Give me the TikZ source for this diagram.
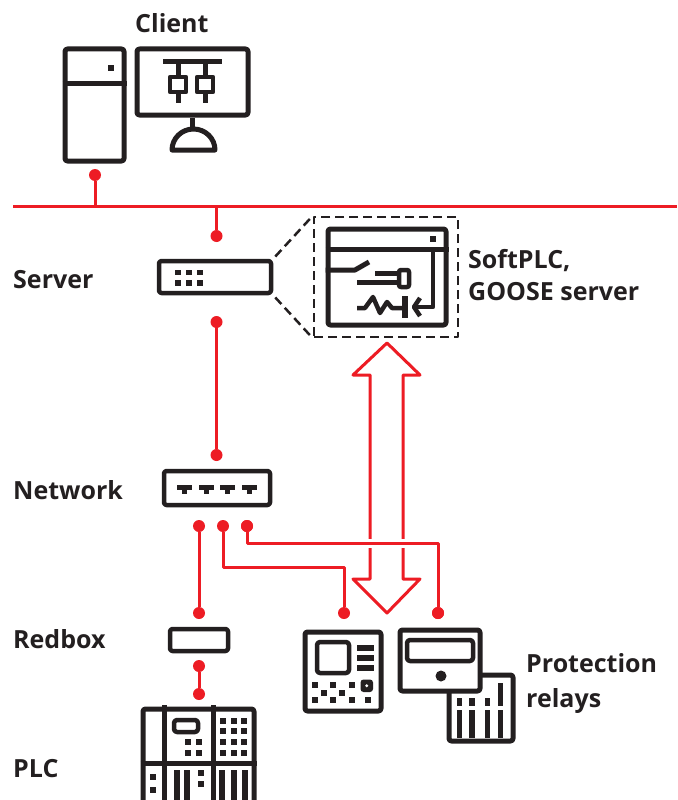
\documentclass[tikz,border=0pt]{standalone}
\usepackage{fontspec}
\setmainfont{Open Sans}
\usepackage{tikz}
\usetikzlibrary{positioning}

\definecolor{abbred}{RGB}{237,28,36}
\definecolor{ink}{RGB}{35,31,32}

\begin{document}
\begin{tikzpicture}[x=1pt,y=-1pt,line join=round,
                    font=\fontsize{25}{32}\selectfont\bfseries]
  \tikzstyle{box}=[draw=ink,line width=5pt,rounded corners=2.5pt,fill=white,inner sep=0pt]
  \tikzstyle{frame}=[draw=ink,line width=2.5pt,dash pattern=on 9pt off 5pt,inner sep=0pt]
  \tikzstyle{dot}=[circle,fill=abbred,inner sep=0pt,minimum size=12pt]
  \tikzstyle{wire}=[draw=abbred,line width=3pt]
  \tikzstyle{lbl}=[anchor=base west,inner sep=0pt,text=ink]
  \tikzstyle{icon}=[draw=ink,line width=5pt]

  \useasboundingbox (0,0) rectangle (677,800);
  \clip (0,0) rectangle (677,800);

  % labels
  \node[lbl] (Lc) at (135,33)  {Client};
  \node[lbl] (Ls) at (13,288)  {Server};
  \node[lbl] (Ln) at (13,499)  {Network};
  \node[lbl] (Lr) at (13,648)  {Redbox};
  \node[lbl] (Lp) at (13,777)  {PLC};
  \node[lbl] (Lw) at (468,268) {SoftPLC,};
  \node[lbl] (Lg) at (468,300) {GOOSE server};
  \node[lbl] (Lq) at (526,672) {Protection};
  \node[lbl] (Ly) at (526,707) {relays};

  % client: tower and monitor
  \node[box,minimum width=59pt,minimum height=112pt] (T) at (94.5,105) {};
  \draw[icon] (T.west |- 0,83) -- (T.east |- 0,83);
  \fill[ink] (108,65) rectangle ++(6,6);
  \node[box,minimum width=111pt,minimum height=66pt] (M) at (192.5,82) {};
  \draw[icon] (M.south) -- ++(0,12);
  \draw[icon,fill=white] (172,150) arc[start angle=180,end angle=360,x radius=21.5,y radius=21] -- cycle;
  \draw[icon] (163,62) -- (222,62);
  \foreach \x in {178,205} {
    \draw[icon] (\x,62) -- (\x,103);
    \draw[icon,line width=4.5pt,fill=white] (\x-8,77) rectangle (\x+8,92);
  }

  % bus
  \coordinate (busL) at (13,206);
  \coordinate (busR) at (677,206);
  \draw[wire] (busL) -- (busR);
  \node[dot] (d0) at (95,175) {};
  \draw[wire] (d0) -- (d0 |- busL);

  % server
  \node[dot] (d1) at (216.5,236) {};
  \draw[wire] (d1) -- (d1 |- busL);
  \node[box,line width=4.5pt,minimum width=112pt,minimum height=32pt] (S) at (215,277) {};
  \foreach \x in {177.5,188.5,199.5}
    \foreach \y in {272,282.5}
      \fill[ink] (\x-2.5,\y-2.5) rectangle ++(5.5,5.5);

  % softplc frame and window
  \node[frame,minimum width=144pt,minimum height=120pt] (W) at (386,277) {};
  \draw[frame,shorten <=3pt] (S.north east) -- (W.north west);
  \draw[frame,shorten <=3pt] (S.south east) -- (W.south west);
  \node[box,minimum width=118pt,minimum height=96pt] (V) at (387,277) {};
  \draw[icon] (V.west |- 0,249) -- (V.east |- 0,249);
  \fill[ink] (430,236) rectangle ++(6,6);
  \draw[icon] (V.west |- 0,270) -- (355,270) -- (369,262);
  \draw[icon] (375,273) -- (400,273);
  \draw[icon] (357,282) -- (400,282);
  \draw[icon,line width=4.5pt,fill=white,rounded corners=2pt] (399,270) rectangle (409,287);
  \draw[icon,line width=4.5pt] (433,249) -- (433,307) -- (417,307);
  \draw[icon,line width=4.5pt] (420,298) -- (414,307) -- (420,316);
  \draw[icon,line width=5.5pt] (405,296) -- (405,318);
  \draw[icon,line width=4.5pt] (357,308) -- (365,308) -- (373,297) -- (380,313)
        -- (387,302) -- (392,308) -- (405,308);

  % server to network
  \node[dot] (d2) at (216.5,322) {};
  \node[dot] (d3) at (216.5,455) {};
  \draw[wire] (d2) -- (d3);
  \node[box,line width=4.5pt,minimum width=106pt,minimum height=34pt] (N) at (217,488) {};
  \foreach \x in {184.5,206,227.5,249.5} {
    \fill[ink] (\x-7.5,485) rectangle (\x+7.5,489.5);
    \fill[ink] (\x-2.5,489) rectangle (\x+2.5,494);
  }

  % goose exchange
  \draw[wire,fill=white] (387,343) -- (420,375) -- (403,375) -- (403,579)
        -- (420,579) -- (387,613) -- (353,579) -- (370,579) -- (370,375)
        -- (353,375) -- cycle;

  % network ports
  \node[dot] (n1) at (199,526) {};
  \node[dot] (n2) at (223,526) {};
  \node[dot] (n3) at (247,526) {};
  \node[dot] (r1) at (199,613) {};
  \node[dot] (q1) at (344,613) {};
  \node[dot] (q2) at (438,613) {};
  \draw[wire] (n1) -- (r1);
  \draw[wire] (n2) -- ++(0,41) -| (q1);
  \draw[wire,preaction={draw=white,line width=9pt}] (n3) -- ++(0,17) -| (q2);
  \node[dot] at (n3) {};
  \node[dot] at (q2) {};

  % redbox and plc
  \node[box,line width=4.5pt,minimum width=58pt,minimum height=22pt] (R) at (199,640) {};
  \node[dot] (r2) at (199,666) {};
  \node[dot] (r3) at (199,694) {};
  \draw[wire] (r2) -- (r3);
  \node[box,minimum width=111pt,minimum height=111pt] (P) at (198.5,764.5) {};
  \draw[icon] (164,705) -- (164,820);
  \draw[icon] (213,705) -- (213,820);
  \draw[icon] (P.west |- 0,763) -- (P.east |- 0,763);
  \draw[icon,line width=4.5pt,rounded corners=3pt] (174,720) rectangle (198,732);
  \foreach \x in {188,199}
    \foreach \y in {742,753}
      \fill[ink] (\x-3,\y-3) rectangle ++(6,6);
  \foreach \x in {223,234,244}
    \foreach \y in {721,731,742,753}
      \fill[ink] (\x-3,\y-3) rectangle ++(6,6);
  \foreach \y in {777,790}
    \fill[ink] (150,\y-3) rectangle ++(6,6);
  \foreach \y in {773,784}
    \fill[ink] (198,\y-3) rectangle ++(6,6);
  \foreach \x in {176.5,186.5,222,233.5,244.5}
    \fill[ink] (\x-3,770) rectangle (\x+3,805);

  % protection relays
  \node[box,minimum width=76pt,minimum height=79pt] (Q1) at (343,671.5) {};
  \draw[icon,line width=4.5pt,rounded corners=3pt] (317,642) rectangle (349,673);
  \foreach \y in {648,658,668}
    \draw[icon,line width=5.5pt] (357,\y) -- (374,\y);
  \foreach \x/\y in {315/685,333/685,352/685,324/693,342/693,315/700,333/700,352/700,368/700}
    \fill[ink] (\x-3,\y-3) rectangle ++(6,6);
  \fill[ink,rounded corners=3pt] (360.5,679.5) rectangle (373,692);
  \fill[white] (366.7,685.7) circle (1.6);

  \node[box,minimum width=64pt,minimum height=66pt] (Q3) at (481,708) {};
  \foreach \x in {459.5,472,487.5}
    \fill[ink] (\x-2.75,698) rectangle (\x+2.75,706);
  \fill[ink] (497.75,683) rectangle (503.25,706);
  \foreach \x in {459.5,472,487.5,500.5}
    \fill[ink] (\x-2.75,710) rectangle (\x+2.75,738);
  \node[box,minimum width=80pt,minimum height=61pt] (Q2) at (440,660.5) {};
  \draw[icon,line width=4.5pt,rounded corners=3pt] (407,640) rectangle (473,661);
  \fill[ink] (441,676) circle (5.5);
\end{tikzpicture}
\end{document}
